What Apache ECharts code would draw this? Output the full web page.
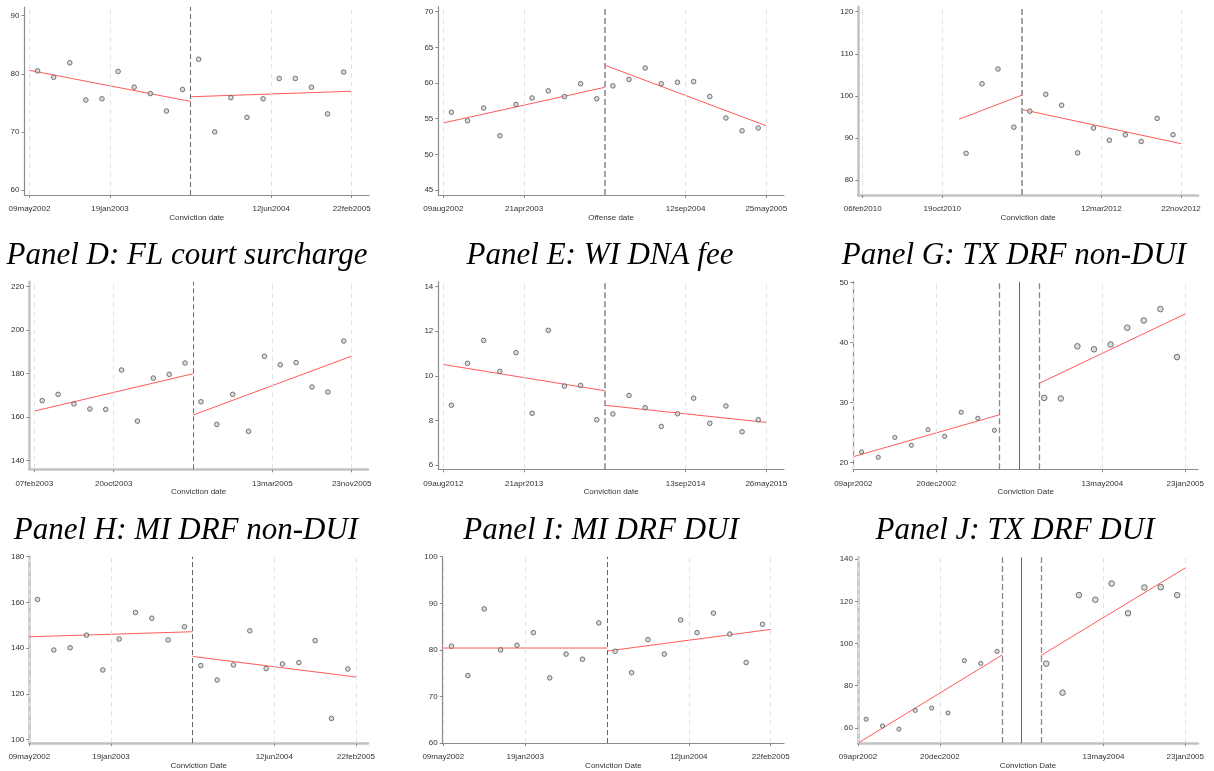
<!DOCTYPE html>
<html><head><meta charset="utf-8">
<script src="https://cdn.jsdelivr.net/npm/echarts@6/dist/echarts.min.js"></script>
<style>html,body{margin:0;padding:0;background:#fff}#c{width:1214px;height:771px}</style>
</head><body><div id="c"></div>
<script>
// ---------------- DATA ----------------
const tickPos = [-10, -5, 5, 10];
const binsPre10 = [-9.5, -8.5, -7.5, -6.5, -5.5, -4.5, -3.5, -2.5, -1.5, -0.5];
const binsPost10 = [0.5, 1.5, 2.5, 3.5, 4.5, 5.5, 6.5, 7.5, 8.5, 9.5];
const binsPreC = [-3.5, -2.5, -1.5, -0.5];
const binsPre9 = [-9.5, -8.5, -7.5, -6.5, -5.5, -4.5, -3.5, -2.5, -1.5];
const binsPost9 = [1.5, 2.5, 3.5, 4.5, 5.5, 6.5, 7.5, 8.5, 9.5];

// Panel A (top-left)
const ticksA = ['09may2002', '19jan2003', '12jun2004', '22feb2005'];
const yTicksA = [60, 70, 80, 90];
const preA = [80.5, 79.4, 81.9, 75.5, 75.7, 80.4, 77.7, 76.6, 73.6, 77.3];
const postA = [82.5, 70.0, 75.9, 72.5, 75.7, 79.2, 79.2, 77.7, 73.1, 80.3];
const fitPreA = [[-10, 80.6], [0, 75.25]];
const fitPostA = [[0, 76.05], [10, 77.0]];

// Panel B (top-middle)
const ticksB = ['09aug2002', '21apr2003', '12sep2004', '25may2005'];
const yTicksB = [45, 50, 55, 60, 65, 70];
const preB = [55.9, 54.7, 56.5, 52.6, 57.0, 57.9, 58.9, 58.1, 59.9, 57.8];
const postB = [59.6, 60.5, 62.1, 59.9, 60.1, 60.2, 58.1, 55.1, 53.3, 53.7];
const fitPreB = [[-10, 54.4], [0, 59.4]];
const fitPostB = [[0, 62.5], [10, 54.0]];

// Panel C (top-right)
const ticksC = ['06feb2010', '19oct2010', '12mar2012', '22nov2012'];
const yTicksC = [80, 90, 100, 110, 120];
const preC = [86.4, 102.9, 106.4, 92.6];
const postC = [96.4, 100.4, 97.8, 86.5, 92.4, 89.5, 90.8, 89.2, 94.7, 90.8];
const fitPreC = [[-3.94, 94.5], [0, 100.2]];
const fitPostC = [[0, 96.8], [10, 88.7]];

// Panel D: FL court surcharge
const ticksD = ['07feb2003', '20oct2003', '13mar2005', '23nov2005'];
const yTicksD = [140, 160, 180, 200, 220];
const preD = [167.6, 170.5, 166.1, 163.8, 163.6, 181.7, 158.2, 178.0, 179.7, 184.9];
const postD = [167.1, 156.7, 170.5, 153.5, 188.0, 184.1, 185.1, 173.9, 171.6, 195.0];
const fitPreD = [[-10, 162.8], [0, 180.0]];
const fitPostD = [[0, 161.0], [10, 188.1]];

// Panel E: WI DNA fee
const ticksE = ['09aug2012', '21apr2013', '13sep2014', '26may2015'];
const yTicksE = [6, 8, 10, 12, 14];
const preE = [8.68, 10.56, 11.59, 10.2, 11.04, 8.32, 12.04, 9.54, 9.57, 8.03];
const postE = [8.29, 9.12, 8.57, 7.73, 8.3, 9.0, 7.87, 8.65, 7.49, 8.03];
const fitPreE = [[-10, 10.51], [0, 9.33]];
const fitPostE = [[0, 8.68], [10, 7.91]];

// Panel G: TX DRF non-DUI
const ticksG = ['09apr2002', '20dec2002', '13may2004', '23jan2005'];
const yTicksG = [20, 30, 40, 50];
const preG = [21.8, 20.9, 24.2, 22.9, 25.5, 24.4, 28.4, 27.4, 25.4];
const postG = [30.8, 30.7, 39.4, 38.9, 39.7, 42.5, 43.7, 45.6, 37.6];
const fitPreG = [[-10, 21.0], [-1.18, 28.0]];
const fitPostG = [[1.18, 33.2], [10, 44.8]];
const windowG = [-1.18, 1.18];

// Panel H: MI DRF non-DUI
const ticksH = ['09may2002', '19jan2003', '12jun2004', '22feb2005'];
const yTicksH = [100, 120, 140, 160, 180];
const preH = [161.3, 139.2, 140.2, 145.7, 130.5, 144.0, 155.6, 153.1, 143.6, 149.4];
const postH = [132.4, 126.1, 132.7, 147.6, 131.1, 133.1, 133.7, 143.3, 109.3, 130.9];
const fitPreH = [[-10, 145.0], [0, 147.2]];
const fitPostH = [[0, 136.4], [10, 127.4]];

// Panel I: MI DRF DUI
const ticksI = ['09may2002', '19jan2003', '12jun2004', '22feb2005'];
const yTicksI = [60, 70, 80, 90, 100];
const preI = [80.8, 74.5, 88.8, 80.0, 81.0, 83.7, 74.0, 79.1, 78.0, 85.8];
const postI = [79.7, 75.1, 82.2, 79.1, 86.4, 83.7, 87.9, 83.4, 77.3, 85.5];
const fitPreI = [[-10, 80.4], [0, 80.4]];
const fitPostI = [[0, 79.75], [10, 84.4]];

// Panel J: TX DRF DUI
const ticksJ = ['09apr2002', '20dec2002', '13may2004', '23jan2005'];
const yTicksJ = [60, 80, 100, 120, 140];
const preJ = [64.1, 60.9, 59.4, 68.3, 69.4, 67.1, 91.9, 90.6, 96.3];
const postJ = [90.5, 76.7, 123.0, 120.8, 128.5, 114.4, 126.6, 126.8, 123.0];
const fitPreJ = [[-10, 52.8], [-1.17, 94.7]];
const fitPostJ = [[1.17, 94.3], [10, 135.9]];
const windowJ = [-1.17, 1.17];

const titles = ['Panel D: FL court surcharge', 'Panel E: WI DNA fee', 'Panel G: TX DRF non-DUI',
                'Panel H: MI DRF non-DUI', 'Panel I: MI DRF DUI', 'Panel J: TX DRF DUI'];

// ---------------- PANELS ----------------
const panels = [
  {ticks: ticksA, yTicks: yTicksA, preX: binsPre10, pre: preA, postX: binsPost10, post: postA, fitPre: fitPreA, fitPost: fitPostA, xName: 'Conviction date'},
  {ticks: ticksB, yTicks: yTicksB, preX: binsPre10, pre: preB, postX: binsPost10, post: postB, fitPre: fitPreB, fitPost: fitPostB, xName: 'Offense date'},
  {ticks: ticksC, yTicks: yTicksC, preX: binsPreC, pre: preC, postX: binsPost10, post: postC, fitPre: fitPreC, fitPost: fitPostC, xName: 'Conviction date'},
  {ticks: ticksD, yTicks: yTicksD, preX: binsPre10, pre: preD, postX: binsPost10, post: postD, fitPre: fitPreD, fitPost: fitPostD, xName: 'Conviction date'},
  {ticks: ticksE, yTicks: yTicksE, preX: binsPre10, pre: preE, postX: binsPost10, post: postE, fitPre: fitPreE, fitPost: fitPostE, xName: 'Conviction date'},
  {ticks: ticksG, yTicks: yTicksG, preX: binsPre9, pre: preG, postX: binsPost9, post: postG, fitPre: fitPreG, fitPost: fitPostG, xName: 'Conviction Date', window: windowG},
  {ticks: ticksH, yTicks: yTicksH, preX: binsPre10, pre: preH, postX: binsPost10, post: postH, fitPre: fitPreH, fitPost: fitPostH, xName: 'Conviction Date'},
  {ticks: ticksI, yTicks: yTicksI, preX: binsPre10, pre: preI, postX: binsPost10, post: postI, fitPre: fitPreI, fitPost: fitPostI, xName: 'Conviction Date'},
  {ticks: ticksJ, yTicks: yTicksJ, preX: binsPre9, pre: preJ, postX: binsPost9, post: postJ, fitPre: fitPreJ, fitPost: fitPostJ, xName: 'Conviction Date', window: windowJ}
];

// ---------------- LAYOUT (pixels / axis extents / styles) ----------------
const layout = [
  {left: 24.5, top: 7,     width: 344.5, height: 188,   xr: [-10.31, 11.074], yr: [59.14, 91.5],  cut: 'thin',  big: false, heavy: false},
  {left: 438.3, top: 6.7,  width: 345.7, height: 188.3, xr: [-10.31, 11.096], yr: [44.3, 70.7],   cut: 'thick', big: false, heavy: false},
  {left: 858.3, top: 6.7,  width: 339.7, height: 188.3, xr: [-10.276, 11.068], yr: [76.51, 121.19], cut: 'thick', big: false, heavy: true},
  {left: 29.3, top: 281.7, width: 338.7, height: 187.6, xr: [-10.315, 11.027], yr: [136.05, 222.3], cut: 'thin', big: false, heavy: true},
  {left: 438.3, top: 281.7, width: 345.7, height: 187.6, xr: [-10.31, 11.096], yr: [5.807, 14.224], cut: 'thick', big: false, heavy: false},
  {left: 853.3, top: 281.7, width: 344.7, height: 187.6, xr: [-10, 10.765], yr: [18.9, 50.167],   cut: 'window', big: true, heavy: false},
  {left: 29.3, top: 556.7, width: 338.7, height: 187,   xr: [-10, 10.735], yr: [98.52, 180],     cut: 'thin', big: false, heavy: true},
  {left: 442.7, top: 556.7, width: 341.3, height: 187.6, xr: [-10.037, 10.812], yr: [60, 100],    cut: 'thin', big: false, heavy: false},
  {left: 858, top: 557.3,  width: 340, height: 187,     xr: [-10, 10.776], yr: [52.79, 140.94],  cut: 'window', big: true, heavy: true}
];
const titlePos = [[187, 256], [600, 256], [1014, 256], [186, 531], [601, 531], [1015, 531]];

const FONT = '"Liberation Sans", Arial, sans-serif';
const RED = '#ff5a5a';

const grid = [], xAxis = [], yAxis = [], series = [];
const zip = (xs, ys) => xs.map((x, k) => [x, ys[k]]);

panels.forEach((p, i) => {
  const L = layout[i];
  const axCol = L.heavy ? '#c2c2c2' : '#8c8c8c';
  const axW = L.heavy ? 2.5 : 1.2;
  grid.push({left: L.left, top: L.top, width: L.width, height: L.height, containLabel: false});
  xAxis.push({
    gridIndex: i, type: 'value', min: L.xr[0], max: L.xr[1],
    axisLine: {show: true, onZero: false, lineStyle: {color: axCol, width: axW}},
    axisTick: {show: true, customValues: tickPos, length: 3, lineStyle: {color: '#888', width: 1}},
    axisLabel: {show: true, customValues: tickPos, formatter: v => p.ticks[tickPos.indexOf(v)] || '',
                fontSize: 8, color: '#333', margin: 10, fontFamily: FONT},
    splitLine: {show: false},
    name: p.xName, nameLocation: 'middle', nameGap: 18.5,
    nameTextStyle: {fontSize: 8, color: '#333', fontFamily: FONT}
  });
  yAxis.push({
    gridIndex: i, type: 'value', min: L.yr[0], max: L.yr[1],
    axisLine: {show: true, onZero: false, lineStyle: {color: axCol, width: axW}},
    axisTick: {show: true, customValues: p.yTicks, length: 3, lineStyle: {color: '#888', width: 1}},
    axisLabel: {show: true, customValues: p.yTicks, fontSize: 8, color: '#333', margin: 5, fontFamily: FONT},
    splitLine: {show: false}
  });

  const gridLineStyle = {color: '#e2e2e2', type: [5, 4], width: 1};
  const ml = tickPos.map(v => ({xAxis: v, lineStyle: gridLineStyle}));
  if (L.cut === 'thin') {
    ml.push({xAxis: 0, lineStyle: {color: '#666', type: [5, 3], width: 1}});
  } else if (L.cut === 'thick') {
    ml.push({xAxis: 0, lineStyle: {color: '#999', type: [6, 3], width: 1.8}});
  } else {
    ml.push({xAxis: 0, lineStyle: {color: '#666', type: 'solid', width: 1}});
    p.window.forEach(w => ml.push({xAxis: w, lineStyle: {color: '#888', type: [6, 3], width: 1.3}}));
  }

  const markerStyle = {color: '#d2d2d2', borderColor: '#555', borderWidth: 1};
  series.push({
    type: 'line', xAxisIndex: i, yAxisIndex: i, data: p.fitPre, showSymbol: false, symbol: 'none',
    lineStyle: {color: RED, width: 1}, z: 2, silent: true,
    markLine: {silent: true, symbol: 'none', label: {show: false}, animation: false, data: ml}
  });
  series.push({
    type: 'line', xAxisIndex: i, yAxisIndex: i, data: p.fitPost, showSymbol: false, symbol: 'none',
    lineStyle: {color: RED, width: 1}, z: 2, silent: true
  });
  series.push({
    type: 'scatter', xAxisIndex: i, yAxisIndex: i, data: zip(p.preX, p.pre),
    symbolSize: L.big ? 4.2 : 4.6, itemStyle: markerStyle, z: 4
  });
  series.push({
    type: 'scatter', xAxisIndex: i, yAxisIndex: i, data: zip(p.postX, p.post),
    symbolSize: L.big ? 5.6 : 4.6, itemStyle: markerStyle, z: 4
  });
});

const graphic = titles.map((t, k) => ({
  type: 'text', x: titlePos[k][0], y: titlePos[k][1], silent: true,
  style: {text: t, font: 'italic 31px "Liberation Serif", "Times New Roman", serif', fill: '#000',
          align: 'center', verticalAlign: 'middle', textAlign: 'center', textVerticalAlign: 'middle'}
}));

const chart = echarts.init(document.getElementById('c'), null, {renderer: 'canvas'});
chart.setOption({
  animation: false,
  backgroundColor: '#fff',
  textStyle: {fontFamily: FONT},
  grid, xAxis, yAxis, series, graphic
});
</script>
</body></html>
